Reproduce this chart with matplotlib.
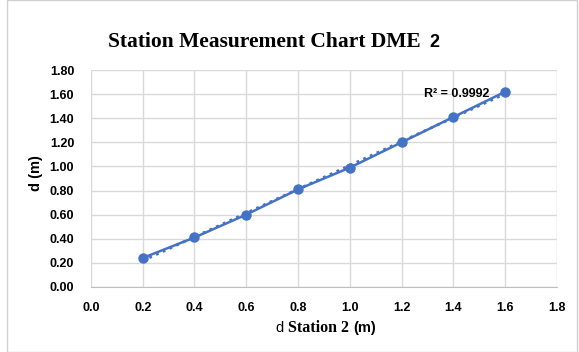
import numpy as np
import matplotlib.pyplot as plt
from matplotlib.patches import Rectangle

# data
d_station = [0.2, 0.4, 0.6, 0.8, 1.0, 1.2, 1.4, 1.6]
d_measured = [0.24, 0.41, 0.60, 0.81, 0.99, 1.20, 1.41, 1.62]
x_ticks = [0.0, 0.2, 0.4, 0.6, 0.8, 1.0, 1.2, 1.4, 1.6, 1.8]
y_ticks = [0.0, 0.2, 0.4, 0.6, 0.8, 1.0, 1.2, 1.4, 1.6, 1.8]
r2_label = "R² = 0.9992"

blue = '#4472C4'
sans = 'Liberation Sans'
serif = 'Liberation Serif'

fig = plt.figure(figsize=(5.79, 3.52), dpi=100)
fig.patches.append(Rectangle((0.012, 0.0), 0.985, 1.0, transform=fig.transFigure,
                             fill=False, edgecolor='#d0d0d0', linewidth=1))
ax = fig.add_axes([0.157, 0.185, 0.805, 0.616])

ax.set_xlim(0, 1.8)
ax.set_ylim(0, 1.8)
ax.set_xticks(x_ticks)
ax.set_yticks(y_ticks)
ax.set_xticklabels([f'{v:.1f}' for v in x_ticks], fontsize=9, fontweight='bold', family=sans)
ax.set_yticklabels([f'{v:.2f}' for v in y_ticks], fontsize=9, fontweight='bold', family=sans)
ax.tick_params(axis='y', length=0, pad=12)
ax.tick_params(axis='x', length=0, pad=11)
ax.grid(True, color='#d9d9d9', linewidth=1)
ax.set_axisbelow(True)
for s in ['top', 'right', 'left']:
    ax.spines[s].set_visible(False)
ax.spines['bottom'].set_color('#bfbfbf')

# linear trendline (dotted) from data
k, b = np.polyfit(d_station, d_measured, 1)
xs = np.array([d_station[0], d_station[-1]])
ax.plot(xs, k * xs + b, color=blue, linestyle=':', linewidth=2)
ax.plot(d_station, d_measured, color=blue, linewidth=1.8, marker='o', markersize=6.5)
ax.text(1.54, 1.605, r2_label, fontsize=9, fontweight='bold', family=sans, ha='right', va='center')

renderer = fig.canvas.get_renderer()


def chain(x0, y, parts):
    """place text pieces side by side in figure pixels"""
    x = x0
    for txt, kw, gap in parts:
        t = fig.text(x / 579, y / 352, txt, ha='left', va='baseline', **kw)
        x = t.get_window_extent(renderer).x1 + gap


# title: serif part + sans "2"
chain(108, 352 - 47, [
    ('Station Measurement Chart DME', dict(fontsize=15.5, fontweight='bold', family=serif), 9),
    ('2', dict(fontsize=13, fontweight='bold', family=sans), 0),
])

# x label in mixed fonts
chain(275, 352 - 332, [
    ('d', dict(fontsize=10.5, family=sans), 5),
    ('Station 2', dict(fontsize=11.5, fontweight='bold', family=serif), 4),
    ('(m)', dict(fontsize=10.5, fontweight='bold', family=sans), 0),
])

fig.text(0.062, 0.508, 'd (m)', fontsize=10.5, fontweight='bold', family=sans, rotation=90,
         ha='center', va='center')

fig.savefig('out.png', dpi=100, facecolor='white')
